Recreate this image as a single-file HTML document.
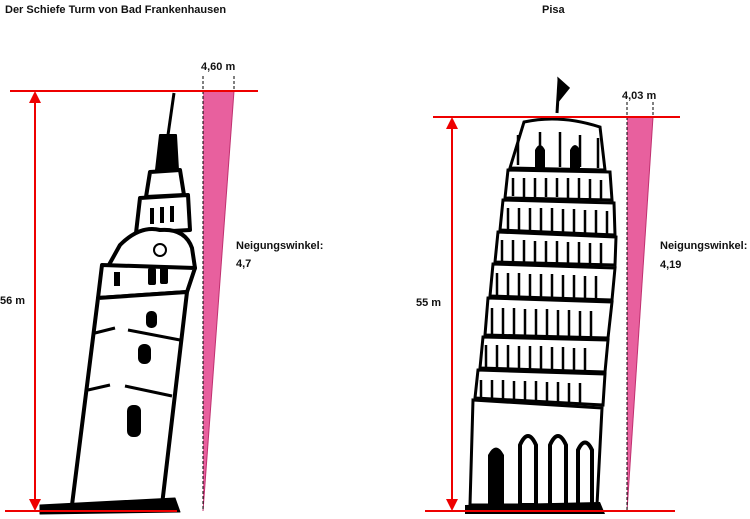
<!DOCTYPE html>
<html><head><style>
body{margin:0;background:#fff;width:750px;height:519px;overflow:hidden;font-family:"Liberation Sans",sans-serif}
svg{position:absolute;left:0;top:0}
text{font-family:"Liberation Sans",sans-serif;font-weight:bold;font-size:11px;fill:#111}
</style></head><body>
<svg width="750" height="519" viewBox="0 0 750 519">
<text x="5" y="13" font-size="12.5">Der Schiefe Turm von Bad Frankenhausen</text>
<text x="542" y="13" font-size="12.5">Pisa</text>

<!-- LEFT TOWER -->
<g stroke="#000" stroke-linejoin="round">
<line x1="174" y1="93" x2="168" y2="135" stroke-width="3"/>
<polygon points="160,135 176,135 178,170 156,170" fill="#000" stroke-width="2"/>
<polygon points="150,172 180,170 184,195 146,197" fill="#fff" stroke-width="4"/>
<polygon points="140,198 188,195 190,230 136,233" fill="#fff" stroke-width="4"/>
<path d="M120,245 Q140,225 160,230 Q185,228 192,248 L195,268 L105,272 Z" fill="#fff" stroke-width="4"/>
<polygon points="102,265 195,268 187,292 98,298" fill="#fff" stroke-width="4"/>
<polygon points="98,298 187,292 162,505 72,505" fill="#fff" stroke-width="4"/>
<path d="M95,333 L115,328 M128,330 L180,340 M88,390 L110,385 M125,386 L172,396" stroke-width="3" fill="none"/>
<polygon points="40,505 175,498 180,512 40,514" fill="#000" stroke-width="1"/>
</g>
<g fill="#000">
<rect x="161" y="145" width="3" height="10"/><rect x="167" y="145" width="3" height="10"/>
<rect x="150" y="208" width="4" height="16"/><rect x="160" y="207" width="4" height="16"/><rect x="170" y="206" width="4" height="16"/>
<rect x="148" y="268" width="8" height="17" rx="2"/><rect x="160" y="267" width="8" height="17" rx="2"/>
<rect x="114" y="272" width="6" height="14"/>
<rect x="146" y="311" width="11" height="17" rx="5"/>
<rect x="138" y="344" width="13" height="20" rx="6"/>
<rect x="127" y="405" width="14" height="32" rx="6"/>
<circle cx="160" cy="250" r="6" fill="none" stroke="#000" stroke-width="2"/>
</g>

<!-- PISA -->
<g stroke="#000" fill="#fff" stroke-width="3">
<line x1="557" y1="113" x2="559" y2="80" stroke-width="3"/>
<path d="M559,80 L568,88 L560,98 Z" fill="#000"/>
<path d="M524,122 Q560,114 600,127 L605,170 L510,168 Z"/>
<path d="M508,170 L610,172 L612,200 L505,198 Z"/>
<path d="M503,200 L614,203 L615,235 L500,230 Z"/>
<path d="M498,232 L616,237 L615,265 L495,262 Z"/>
<path d="M493,264 L615,268 L612,300 L490,296 Z"/>
<path d="M488,298 L612,302 L608,338 L485,335 Z"/>
<path d="M483,337 L608,340 L605,372 L480,368 Z"/>
<path d="M478,370 L605,374 L603,405 L475,398 Z"/>
<path d="M473,400 L602,408 L597,505 L470,505 Z"/>
</g>
<g stroke="#000" stroke-width="2.5" fill="none">
<path d="M518,135 v30 M540,132 v35 M560,132 v35 M580,135 v32 M598,138 v30"/>
<path d="M513,178 v18 M524,178 v19 M535,178 v19 M546,178 v19 M557,178 v19 M568,178 v20 M579,178 v20 M590,179 v20 M601,180 v20"/>
<path d="M508,208 v22 M519,208 v23 M530,208 v23 M541,208 v23 M552,208 v24 M563,209 v24 M574,209 v24 M585,210 v24 M596,210 v24 M607,211 v24"/>
<path d="M502,240 v22 M513,240 v22 M524,240 v22 M535,241 v22 M546,241 v22 M557,241 v23 M568,242 v23 M579,242 v23 M590,243 v23 M601,243 v23"/>
<path d="M497,273 v24 M508,273 v24 M519,273 v24 M530,274 v24 M541,274 v24 M552,274 v24 M563,275 v24 M574,275 v25 M585,276 v25 M596,276 v25"/>
<path d="M492,308 v27 M503,308 v27 M514,308 v27 M525,309 v27 M536,309 v27 M547,309 v28 M558,310 v28 M569,310 v28 M580,311 v28 M591,311 v28"/>
<path d="M486,345 v24 M497,345 v24 M508,345 v24 M519,346 v24 M530,346 v24 M541,346 v24 M552,347 v24 M563,347 v25 M574,348 v25 M585,348 v25"/>
<path d="M481,380 v18 M492,380 v19 M503,380 v19 M514,381 v19 M525,381 v19 M536,381 v20 M547,382 v20 M558,382 v20 M569,383 v20 M580,383 v21"/>
</g>
<g fill="#000">
<path d="M535,150 q5,-10 10,0 v18 h-10z"/><path d="M570,150 q5,-10 10,0 v18 h-10z"/>
<path d="M488,505 v-50 q8,-15 16,0 v50z"/>
<path d="M520,505 v-60 q8,-18 16,0 v60z" fill="none" stroke="#000" stroke-width="4"/>
<path d="M550,505 v-60 q8,-18 16,0 v60z" fill="none" stroke="#000" stroke-width="4"/>
<path d="M578,505 v-55 q7,-15 14,0 v55z" fill="none" stroke="#000" stroke-width="4"/>
<polygon points="465,505 600,502 605,514 465,514"/>
</g>

<!-- LEFT MEASURES -->
<polygon points="203,91 234,91 203,511" fill="#e8609e"/>
<line x1="234" y1="91" x2="203" y2="511" stroke="#c03070" stroke-width="1"/>
<line x1="203" y1="76" x2="203" y2="511" stroke="#000" stroke-width="1" stroke-dasharray="3,2"/>
<line x1="234" y1="76" x2="234" y2="91" stroke="#000" stroke-width="1" stroke-dasharray="3,2"/>
<line x1="10" y1="91" x2="258" y2="91" stroke="#e00" stroke-width="2"/>
<line x1="5" y1="511" x2="177" y2="511" stroke="#e00" stroke-width="2"/>
<line x1="35" y1="100" x2="35" y2="500" stroke="#e00" stroke-width="2"/>
<polygon points="35,91 29,103 41,103" fill="#e00"/>
<polygon points="35,511 29,499 41,499" fill="#e00"/>
<text x="201" y="70">4,60 m</text>
<text x="236" y="249">Neigungswinkel:</text>
<text x="236" y="267">4,7</text>
<text x="0" y="304">56 m</text>

<!-- RIGHT MEASURES -->
<polygon points="627,117 653,117 627,511" fill="#e8609e"/>
<line x1="653" y1="117" x2="627" y2="511" stroke="#c03070" stroke-width="1"/>
<line x1="627" y1="102" x2="627" y2="511" stroke="#000" stroke-width="1" stroke-dasharray="3,2"/>
<line x1="653" y1="102" x2="653" y2="117" stroke="#000" stroke-width="1" stroke-dasharray="3,2"/>
<line x1="433" y1="117" x2="680" y2="117" stroke="#e00" stroke-width="2"/>
<line x1="425" y1="511" x2="675" y2="511" stroke="#e00" stroke-width="2"/>
<line x1="452" y1="126" x2="452" y2="500" stroke="#e00" stroke-width="2"/>
<polygon points="452,117 446,129 458,129" fill="#e00"/>
<polygon points="452,511 446,499 458,499" fill="#e00"/>
<text x="622" y="99">4,03 m</text>
<text x="660" y="249">Neigungswinkel:</text>
<text x="660" y="268">4,19</text>
<text x="416" y="306">55 m</text>
</svg>
</body></html>
